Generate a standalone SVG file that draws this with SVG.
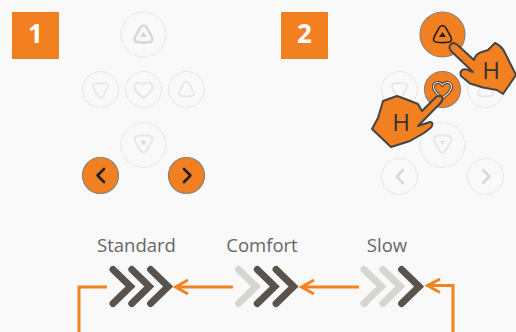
<svg xmlns="http://www.w3.org/2000/svg" width="516" height="332" viewBox="0 0 516 332">
<style>
.ring{fill:#f9f9f9;stroke:#e6e6e6;stroke-width:1;stroke-dasharray:14 1.500}
.act{fill:#f28021;stroke:#8a8278;stroke-width:1.200}
.gly{fill:none;stroke:#e6e6e6;stroke-width:2;stroke-linejoin:round;stroke-linecap:round}
.gly2{fill:none;stroke:#d8d8d8;stroke-width:2.600;stroke-linejoin:round;stroke-linecap:round}
.dk{fill:none;stroke:#1f1f1f;stroke-width:2.600;stroke-linejoin:round;stroke-linecap:round}
.num{font:bold 26px "Open Sans",sans-serif;fill:#fff;text-anchor:middle}
.lab{font:18.500px "Open Sans",sans-serif;fill:#666;text-anchor:middle}
.h{font:24px "Open Sans",sans-serif;fill:#333;text-anchor:middle}
.hand{fill:#f28021;stroke:#444;stroke-width:2;stroke-linejoin:round}
.ch{fill:none;stroke-width:7;stroke-linecap:round;stroke-linejoin:miter}
.on{stroke:#5a534c}.off{stroke:#d6d5d2}
.ar{fill:none;stroke:#f58220;stroke-width:3}
</style>
<defs>
<path id="up" d="M0-9.500c1.600 0 2.600 1 3.400 2.400L8.400 2c1.400 2.800.2 5-3 5.300-3.600.4-7.200.4-10.800 0C-8.600 7-9.800 4.800-8.400 2L-3.400-7.100C-2.600-8.500-1.600-9.500 0-9.500Z"/>
<path id="heart" d="M0 8.500C-4 5.500-9 2-9-2.500-9-5.500-6.800-7-4.600-7-2.800-7-1-6-0-4.500 1-6 2.800-7 4.600-7 6.800-7 9-5.500 9-2.500 9 2 4 5.500 0 8.500Z"/>
<path id="chev" d="M0 0L17.500 17L0 34"/>
</defs>
<rect width="516" height="332" fill="#f9f9f9"/>

<g id="badge-1"><rect x="12" y="12" width="47" height="47" fill="#f28021"/><text class="num" x="35.500" y="43">1</text></g>
<g id="panel-1">
<g id="p1-top"><circle class="ring" cx="143.500" cy="34.500" r="22.500"/><use href="#up" class="gly2" transform="translate(143.500 35)"/><path d="M143.500 32l3.500 5h-7z" fill="#d6d6d6"/></g>
<g id="p1-left"><circle class="ring" cx="100.500" cy="89.500" r="18"/><use href="#up" class="gly" transform="translate(100.500 89.500) rotate(180) scale(.85)"/></g>
<g id="p1-heart"><circle class="ring" cx="143.500" cy="89.500" r="18"/><use href="#heart" class="gly" transform="translate(143.500 89.500)"/></g>
<g id="p1-right"><circle class="ring" cx="186.500" cy="89.500" r="18"/><use href="#up" class="gly" transform="translate(186.500 90) scale(.85)"/></g>
<g id="p1-bottom"><circle class="ring" cx="143.500" cy="145" r="22.500"/><use href="#up" class="gly" transform="translate(143.500 143) rotate(180)"/><rect x="141.500" y="140.500" width="4" height="4" fill="#dcdcdc"/></g>
<g id="p1-prev"><circle class="act" cx="100.500" cy="175.500" r="18"/><path class="dk" d="M104 169l-6.500 6.500 6.500 6.500"/></g>
<g id="p1-next"><circle class="act" cx="186.500" cy="175.500" r="18"/><path class="dk" d="M184 169l6.500 6.500-6.500 6.500"/></g>
</g>

<g id="badge-2"><rect x="281" y="12" width="47" height="47" fill="#f28021"/><text class="num" x="304.500" y="43">2</text></g>
<g id="panel-2">
<g id="p2-left"><circle class="ring" cx="399.500" cy="89.500" r="18"/><use href="#up" class="gly" transform="translate(399.500 89.500) rotate(180) scale(.85)"/></g>
<g id="p2-right"><circle class="ring" cx="485.500" cy="89.500" r="18"/><use href="#up" class="gly" transform="translate(485.500 90) scale(.85)"/></g>
<g id="p2-bottom"><circle class="ring" cx="442.500" cy="145" r="22.500"/><use href="#up" class="gly" transform="translate(442.500 143) rotate(180)"/><path d="M440 141h5l-2.500 3.500z" fill="#dcdcdc"/></g>
<g id="p2-prev"><circle class="ring" cx="399.500" cy="176.500" r="18"/><path class="gly2" d="M403 170l-6.500 6.500 6.500 6.500"/></g>
<g id="p2-next"><circle class="ring" cx="485.500" cy="176.500" r="18"/><path class="gly2" d="M483 170l6.500 6.500-6.500 6.500"/></g>
<g id="p2-top"><circle class="act" cx="442.500" cy="34.500" r="22.500"/><use href="#up" class="dk" style="stroke-width:1.600" transform="translate(442.500 35)"/><path d="M442.500 32l3.500 5h-7z" fill="#1f1f1f"/></g>
<g id="p2-heart"><circle class="act" cx="442.500" cy="89.500" r="18"/><use href="#heart" fill="none" stroke="#333" stroke-width="3" transform="translate(442.500 89.500)"/><use href="#heart" fill="none" stroke="#f5f5f5" stroke-width="1.200" transform="translate(442.500 89.500)"/></g>
<g id="hand-1"><path class="hand" d="M451 44C453 42.500 455 43 457 44.500L474 60C475 56 478 53 482 52L488 50L495 43C500 45 504 50 506 55L516 75L503 94L497 90L483 87.500L470 83.500L461 76C459 71 463 68 468 70L473 72L451 51C449 48.500 449 46 451 44Z"/><text class="h" x="491" y="79">H</text></g>
<g id="hand-2"><path class="hand" d="M436 97C439 95 442 96 442.500 98C443 100 441.500 102 440 103.500L418 126L430 122C433 122 433 125 431 127.500L424 133L410 141L391 147L372 129L378 118L383 101L397 96L408 100L418 104L422 111L436 97Z"/><text class="h" x="401" y="131">H</text></g>
</g>

<g id="mode-standard"><text class="lab" x="136.500" y="252">Standard</text>
<use href="#chev" class="ch on" transform="translate(113 269.500)"/><use href="#chev" class="ch on" transform="translate(131.800 269.500)"/><use href="#chev" class="ch on" transform="translate(150.600 269.500)"/></g>
<g id="mode-comfort"><text class="lab" x="262" y="252">Comfort</text>
<use href="#chev" class="ch off" transform="translate(238.500 269.500)"/><use href="#chev" class="ch on" transform="translate(257.300 269.500)"/><use href="#chev" class="ch on" transform="translate(276.100 269.500)"/></g>
<g id="mode-slow"><text class="lab" x="387" y="252">Slow</text>
<use href="#chev" class="ch off" transform="translate(364 269.500)"/><use href="#chev" class="ch off" transform="translate(382.800 269.500)"/><use href="#chev" class="ch on" transform="translate(401.600 269.500)"/></g>

<g id="connectors">
<path class="ar" d="M79 332V287H107"/>
<path class="ar" d="M233 287H176M188 280L175.500 287L188 294"/>
<path class="ar" d="M359 287H302M314 280L301.500 287L314 294"/>
<path class="ar" d="M453 332V285.500H428M440 279L427.500 285.500L440 292.500"/>
</g>
</svg>
